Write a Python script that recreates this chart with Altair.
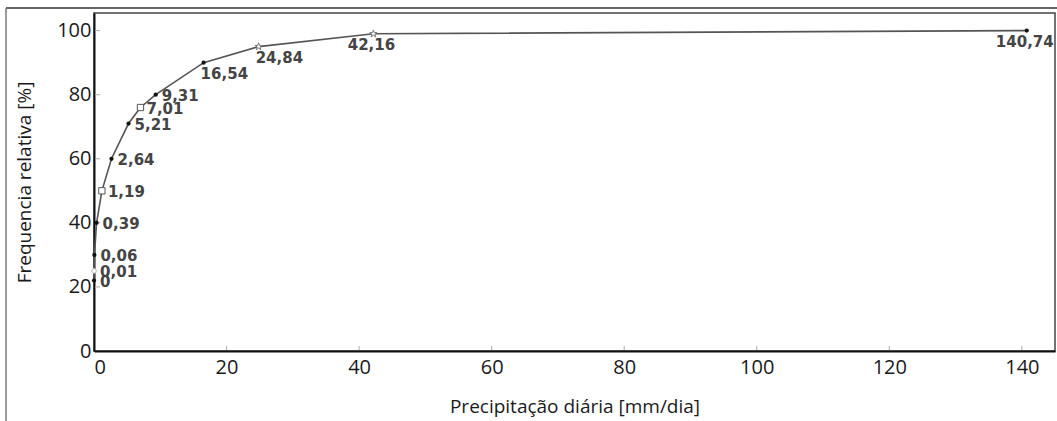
import altair as alt
import pandas as pd

precip = [0, 0.01, 0.06, 0.39, 1.19, 2.64, 5.21, 7.01, 9.31, 16.54, 24.84, 42.16, 140.74]
freq = [22, 25, 30, 40, 50, 60, 71, 76, 80, 90, 95, 99, 100]
labels = ["0", "0,01", "0,06", "0,39", "1,19", "2,64", "5,21", "7,01", "9,31",
          "16,54", "24,84", "42,16", "140,74"]
marker = ["dot", "open", "dot", "dot", "square", "dot", "dot", "square", "dot",
          "dot", "star", "star", "dot"]
x_ticks = [0, 20, 40, 60, 80, 100, 120, 140]
y_ticks = [0, 20, 40, 60, 80, 100]

df = pd.DataFrame({"p": precip, "f": freq, "lab": labels, "m": marker})
W, H = 961, 338

xs = alt.Scale(domain=[0, 145], nice=False, zero=False)
ys = alt.Scale(domain=[0, 105.5], nice=False)

base = alt.Chart(df)
X = alt.X("p:Q", scale=xs, title="Precipitação diária [mm/dia]",
          axis=alt.Axis(values=x_ticks, grid=False, ticks=False, labelPadding=6,
                        labelFontSize=20, labelFont="Open Sans", labelColor="#1a1a1a",
                        titleFontSize=19, titleFont="Open Sans", titleFontWeight="normal",
                        titleColor="#1a1a1a", titlePadding=20,
                        domainColor="#111111", domainWidth=2))
Y = alt.Y("f:Q", scale=ys, title="Frequencia relativa [%]",
          axis=alt.Axis(values=y_ticks, grid=False, ticks=False, labelPadding=3,
                        labelFontSize=20, labelFont="Open Sans", labelColor="#1a1a1a",
                        titleFontSize=19, titleFont="Open Sans", titleFontWeight="normal",
                        titleColor="#1a1a1a", titlePadding=22,
                        domainColor="#111111", domainWidth=2))

line = base.mark_line(color="#555555", strokeWidth=1.6).encode(x=X, y=Y)

dots = base.transform_filter("datum.m == 'dot'").mark_point(
    shape="circle", filled=True, color="#111111", size=18, opacity=1).encode(x="p:Q", y="f:Q")
opens = base.transform_filter("datum.m == 'open'").mark_point(
    shape="circle", filled=True, fill="white", stroke="#bbbbbb", strokeWidth=1, size=22,
    opacity=1).encode(x="p:Q", y="f:Q")
squares = base.transform_filter("datum.m == 'square'").mark_point(
    shape="square", filled=True, fill="white", stroke="#555555", strokeWidth=1, size=40,
    opacity=1).encode(x="p:Q", y="f:Q")
star_path = ("M0,-1L0.22,-0.31L0.95,-0.31L0.36,0.12L0.59,0.81L0,0.38L-0.59,0.81"
             "L-0.36,0.12L-0.95,-0.31L-0.22,-0.31Z")
stars = base.transform_filter("datum.m == 'star'").mark_point(
    shape=star_path, filled=True, fill="white", stroke="#777777", strokeWidth=1, size=60,
    opacity=1).encode(x="p:Q", y="f:Q")

tfont = dict(font="DejaVu Sans", fontSize=15, fontWeight="bold", color="#444444")
lab_right = base.transform_filter("datum.p < 10").mark_text(
    align="left", baseline="middle", dx=6, dy=1, **tfont).encode(x="p:Q", y="f:Q", text="lab:N")
lab_below_left = base.transform_filter("datum.p >= 10 && datum.p < 30").mark_text(
    align="left", baseline="top", dx=-3, dy=4, **tfont).encode(x="p:Q", y="f:Q", text="lab:N")
lab_below_c = base.transform_filter("datum.p >= 30").mark_text(
    align="center", baseline="top", dx=-2, dy=4, **tfont).encode(x="p:Q", y="f:Q", text="lab:N")

ytk = alt.Chart(pd.DataFrame({"t": y_ticks[1:]})).mark_rule(color="#aaaaaa", strokeWidth=1).encode(
    y=alt.Y("t:Q", scale=ys), x=alt.value(1), x2=alt.value(6))
xtk = alt.Chart(pd.DataFrame({"t": x_ticks[1:]})).mark_rule(color="#aaaaaa", strokeWidth=1).encode(
    x=alt.X("t:Q", scale=xs), y=alt.value(H - 5), y2=alt.value(H - 1))

frame_top = alt.Chart(pd.DataFrame({"a": [0]})).mark_rule(color="#666666", strokeWidth=2).encode(
    x=alt.value(-88), x2=alt.value(W + 2), y=alt.value(-5))
frame_left = alt.Chart(pd.DataFrame({"a": [0]})).mark_rule(color="#777777", strokeWidth=1.5).encode(
    x=alt.value(-88), y=alt.value(-5), y2=alt.value(H + 70))

chart = alt.layer(line, ytk, xtk, dots, opens, squares, stars,
                  lab_right, lab_below_left, lab_below_c, frame_top, frame_left).properties(
    width=W, height=H,
    autosize=alt.AutoSizeParams(type="none"),
    padding={"left": 94, "top": 13, "right": 2, "bottom": 70},
    background="white",
).configure_view(stroke="#444444", strokeWidth=1.5)

chart.save("out.html", embed_options={"renderer": "svg", "actions": False})
